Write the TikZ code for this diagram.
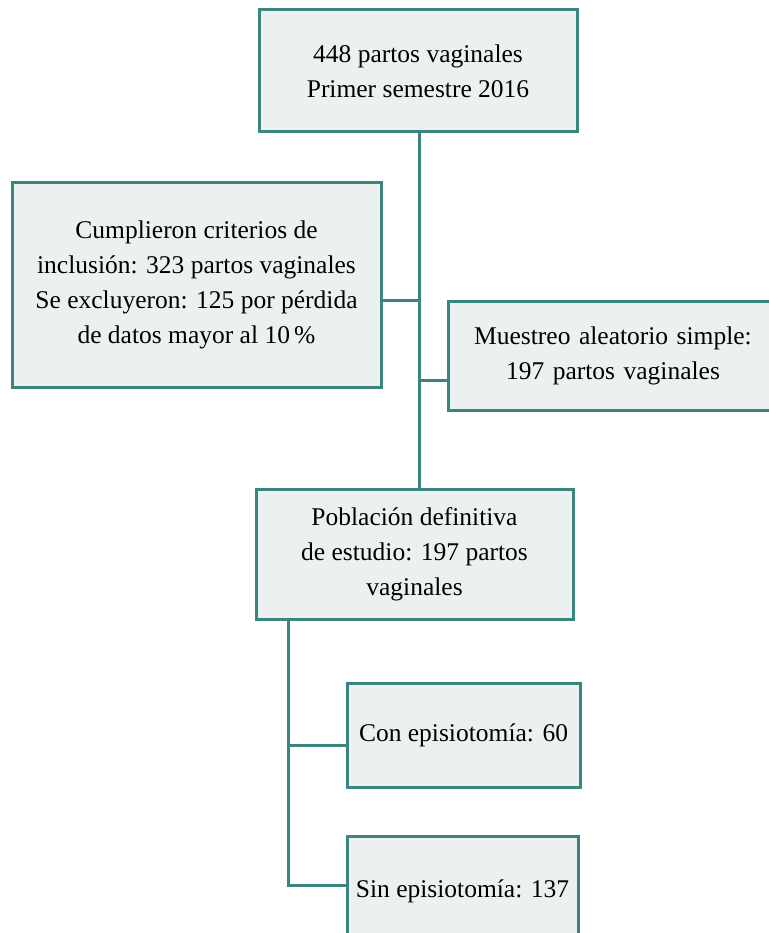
\documentclass[tikz,border=0pt]{standalone}
\usepackage{fontspec}
\setmainfont{Liberation Serif}
\usetikzlibrary{shadows}
\definecolor{teal1}{HTML}{3A857F}
\definecolor{boxfill}{HTML}{EDF0F1}
\begin{document}
\begin{tikzpicture}[x=1pt,y=-1pt,
  box/.style={draw=teal1,line width=3pt,fill=boxfill,align=center,
    font=\fontsize{25.5}{35}\selectfont,inner sep=0pt,
    drop shadow={shadow xshift=1pt,shadow yshift=-1.5pt,fill=black,opacity=0.15}},
  conn/.style={draw=teal1,line width=3pt}]
\useasboundingbox (0,0) rectangle (768,933);
\node[box,minimum width=318pt,minimum height=122pt] (top) at (418,71)
  {448 partos vaginales\\Primer semestre 2016};
\node[box,minimum width=369pt,minimum height=204pt] (left) at (196.5,285)
  {Cumplieron criterios de\\inclusión: 323 partos vaginales\\Se excluyeron: 125 por pérdida\\de datos mayor al 10\,\%};
\node[box,minimum width=330pt,minimum height=109pt,text width=310pt] (right) at (613,355.5)
  {Muestreo aleatorio simple:\\197 partos vaginales};
\node[box,minimum width=317pt,minimum height=130pt] (mid) at (414.5,554)
  {Población definitiva\\de estudio: 197 partos\\vaginales};
\node[box,minimum width=233pt,minimum height=104pt] (con) at (463.5,735)
  {Con episiotomía: 60};
\node[box,minimum width=231pt,minimum height=110pt] (sin) at (462.5,891)
  {Sin episiotomía: 137};
\coordinate (t1) at (419,132);
\draw[conn] (top.south -| t1) -- (mid.north -| t1);
\draw[conn] (left.east |- 0,300) -- (419,300);
\draw[conn] (419,380) -- (right.west |- 0,380);
\coordinate (b1) at (288,619);
\draw[conn] (mid.south -| b1) -- (288,885) -- (sin.west |- 0,885);
\draw[conn] (288,745) -- (con.west |- 0,745);
\end{tikzpicture}
\end{document}
